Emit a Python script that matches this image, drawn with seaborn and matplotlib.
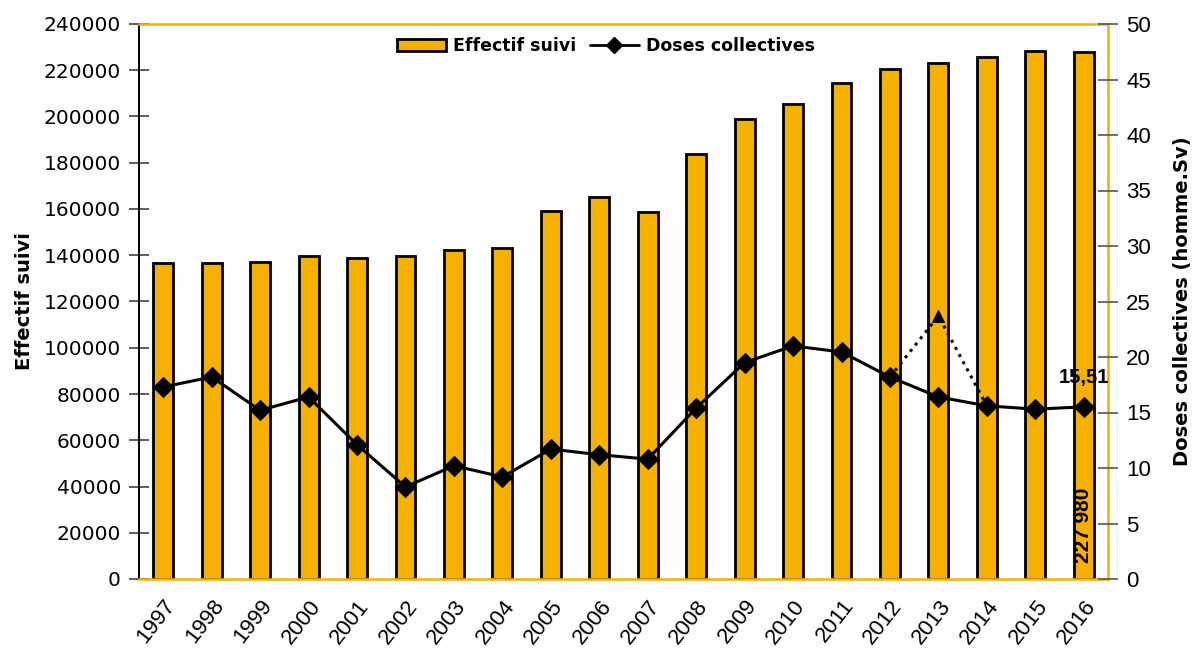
import numpy as np
import matplotlib
matplotlib.use("Agg")
import matplotlib.pyplot as plt
import seaborn as sns
from matplotlib.patches import Patch
from matplotlib.lines import Line2D

years = [str(y) for y in range(1997, 2017)]
effectif = [136500, 136700, 137100, 139800, 138800, 139700, 142100, 143000,
            159100, 165200, 158700, 183800, 198800, 205300, 214300, 220500,
            223100, 225900, 228200, 227980]
doses = [17.3, 18.2, 15.2, 16.4, 12.1, 8.3, 10.2, 9.2, 11.7, 11.2,
         10.8, 15.4, 19.5, 21.0, 20.45, 18.2, 16.4, 15.6, 15.3, 15.51]
# dotted branch 2012 -> 2013 -> 2014
alt_years = [2012, 2013, 2014]
alt_doses = [18.2, 23.7, 15.6]

bar_color = '#F6B100'
arial = 'Liberation Sans'
tahoma = 'DejaVu Sans'

sns.set_style("white")
plt.rcParams['font.family'] = ['DejaVu Sans']
plt.rcParams['text.color'] = 'black'
plt.rcParams['axes.labelcolor'] = 'black'

fig = plt.figure(figsize=(11.95, 6.5), dpi=100)
ax = fig.add_axes([139 / 1195, 71 / 650, 969 / 1195, 555 / 650])

sns.barplot(x=years, y=effectif, color=bar_color, saturation=1, width=0.41,
            edgecolor='black', linewidth=2, ax=ax)
ax.set_xlim(-0.5, len(years) - 0.5)
ax.set_ylim(0, 240000)
ax.set_yticks(np.arange(0, 240001, 20000))
ax.set_yticklabels([str(v) for v in range(0, 240001, 20000)],
                   fontsize=14.5, family=tahoma)
ax.set_xticks(np.arange(len(years)))
ax.set_xticklabels(years, rotation=52, ha='right', rotation_mode='anchor',
                   fontsize=16, family=arial)
ax.set_xticks(np.arange(len(years) + 1) - 0.5, minor=True)
ax.tick_params(axis='x', which='major', length=0, pad=12, labelcolor='black')
ax.tick_params(axis='x', which='minor', length=14, direction='inout',
               color='#555555', width=1.2)
ax.tick_params(axis='y', length=14, direction='inout', color='#444444',
               width=1.2, pad=6, labelcolor='black')
ax.set_xlabel('')
ax.set_ylabel('Effectif suivi', fontsize=14, fontweight='bold', family=tahoma,
              labelpad=7)
for side in ['top', 'right', 'bottom']:
    ax.spines[side].set_color(bar_color)
    ax.spines[side].set_linewidth(1.8)
ax.spines['left'].set_color('black')
ax.spines['left'].set_linewidth(1.4)

ax.annotate('227 980', xy=(len(years) - 1, 0), xytext=(0, 16),
            textcoords='offset pixels', rotation=90, ha='center', va='bottom',
            fontsize=15, fontweight='bold', family=arial)

ax2 = ax.twinx()
alt_pos = [years.index(str(y)) for y in alt_years]
sns.lineplot(x=alt_pos, y=alt_doses, ax=ax2, color='black', linestyle=':',
             linewidth=2.2, marker='^', markersize=8, markevery=[1],
             markeredgecolor='black')
sns.lineplot(x=np.arange(len(years)), y=doses, ax=ax2, color='black',
             linewidth=2.2, marker='D', markersize=10, markeredgecolor='black')
ax2.set_ylim(0, 50)
ax2.set_yticks(np.arange(0, 51, 5))
ax2.set_yticklabels([str(v) for v in range(0, 51, 5)], fontsize=16, family=arial)
ax2.tick_params(axis='y', length=14, direction='inout', color='#555555',
                width=1.2, pad=6, labelcolor='black')
ax2.set_ylabel('Doses collectives (homme.Sv)', fontsize=14, fontweight='bold',
               family=tahoma, labelpad=16)
for side in ax2.spines:
    ax2.spines[side].set_visible(False)

ax2.annotate('15,51', xy=(len(years) - 1, doses[-1]), xytext=(0, 29),
             textcoords='offset pixels', ha='center', va='center',
             fontsize=14.5, fontweight='bold', family=arial)

handles = [Patch(facecolor=bar_color, edgecolor='black', linewidth=2),
           Line2D([], [], color='black', linewidth=2, marker='D', markersize=8)]
ax2.legend(handles, ['Effectif suivi', 'Doses collectives'],
           loc='center', bbox_to_anchor=(606 / 1195, 1 - 46 / 650),
           bbox_transform=fig.transFigure, ncol=2, frameon=False,
           prop={'family': tahoma, 'weight': 'bold', 'size': 12.5},
           handlelength=2.8, handleheight=0.7, columnspacing=0.8,
           handletextpad=0.4)

fig.savefig('out.png', dpi=100)
